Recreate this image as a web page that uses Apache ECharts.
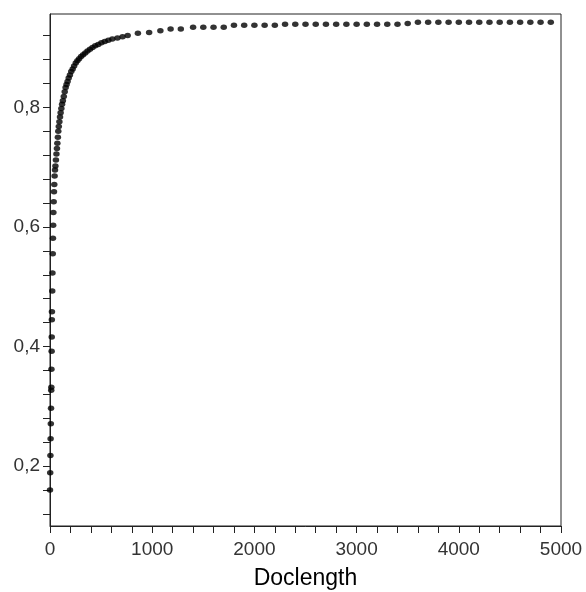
<!DOCTYPE html>
<html>
<head>
<meta charset="utf-8">
<script src="https://cdn.jsdelivr.net/npm/echarts@6/dist/echarts.min.js"></script>
<style>html,body{margin:0;padding:0;background:#fff;}#chart{width:586px;height:592px;}</style>
</head>
<body>
<div id="chart"></div>
<script>
const docLength = [0, 2, 4, 6, 8, 10, 12, 13, 14, 16, 17, 18, 19, 22, 24, 27, 29, 31, 33, 36, 39, 42, 45, 49, 53, 58, 63, 68, 72, 77, 81, 86, 92, 98, 104, 111, 118, 126, 135, 144, 153, 162, 172, 183, 195, 208, 222, 236, 252, 268, 285, 304, 324, 345, 367, 391, 416, 443, 472, 503, 536, 571, 610, 660, 710, 760, 860, 970, 1080, 1180, 1280, 1400, 1500, 1600, 1700, 1800, 1900, 2000, 2100, 2200, 2300, 2400, 2500, 2600, 2700, 2800, 2900, 3000, 3100, 3200, 3300, 3400, 3500, 3600, 3700, 3800, 3900, 4000, 4100, 4200, 4300, 4400, 4500, 4600, 4700, 4800, 4900];
const accuracy = [0.16, 0.189, 0.218, 0.246, 0.271, 0.297, 0.327, 0.332, 0.362, 0.392, 0.416, 0.445, 0.458, 0.493, 0.523, 0.555, 0.581, 0.603, 0.624, 0.642, 0.659, 0.671, 0.685, 0.695, 0.702, 0.712, 0.722, 0.731, 0.740, 0.750, 0.760, 0.768, 0.776, 0.784, 0.791, 0.798, 0.805, 0.811, 0.818, 0.826, 0.833, 0.838, 0.843, 0.849, 0.854, 0.860, 0.864, 0.869, 0.874, 0.878, 0.881, 0.885, 0.888, 0.891, 0.894, 0.897, 0.900, 0.903, 0.905, 0.908, 0.910, 0.912, 0.914, 0.916, 0.918, 0.920, 0.924, 0.925, 0.928, 0.931, 0.931, 0.934, 0.934, 0.934, 0.934, 0.937, 0.937, 0.937, 0.937, 0.937, 0.939, 0.939, 0.939, 0.939, 0.939, 0.939, 0.939, 0.939, 0.939, 0.939, 0.939, 0.939, 0.940, 0.942, 0.942, 0.942, 0.942, 0.942, 0.942, 0.942, 0.942, 0.942, 0.942, 0.942, 0.942, 0.942, 0.942];
const xTickValues = [0, 200, 400, 600, 800, 1000, 1200, 1400, 1600, 1800, 2000, 2200, 2400, 2600, 2800, 3000, 3200, 3400, 3600, 3800, 4000, 4200, 4400, 4600, 4800, 5000];
const xLabelValues = [0, 1000, 2000, 3000, 4000, 5000];
const yTickValues = [0.12, 0.16, 0.20, 0.24, 0.28, 0.32, 0.36, 0.40, 0.44, 0.48, 0.52, 0.56, 0.60, 0.64, 0.68, 0.72, 0.76, 0.80, 0.84, 0.88, 0.92];
const yLabelValues = [0.2, 0.4, 0.6, 0.8];
const xName = 'Doclength';

const chart = echarts.init(document.getElementById('chart'), null, {renderer: 'canvas'});
const points = docLength.map((x, i) => [x, accuracy[i]]);
const labelStyle = {fontFamily: 'Liberation Sans', fontSize: 19, color: '#333'};
chart.setOption({
  animation: false,
  backgroundColor: '#fff',
  grid: {left: 50, right: 25, top: 14, bottom: 66, containLabel: false, outerBoundsMode: 'none', show: true, borderColor: '#222', borderWidth: 1, backgroundColor: 'transparent'},
  xAxis: {
    type: 'value', min: 0, max: 5000,
    name: xName, nameLocation: 'middle', nameGap: 41,
    nameTextStyle: {fontFamily: 'Liberation Sans', fontSize: 23, color: '#000'},
    axisLine: {show: true, lineStyle: {color: '#222', width: 1}},
    axisTick: {show: true, length: 7, inside: false, customValues: xTickValues, lineStyle: {color: '#222'}},
    axisLabel: Object.assign({margin: 14, customValues: xLabelValues, formatter: v => String(v)}, labelStyle),
    splitLine: {show: false}
  },
  yAxis: {
    type: 'value', min: 0.1, max: 0.956,
    axisLine: {show: true, lineStyle: {color: '#222', width: 1}},
    axisTick: {show: true, length: 7, inside: false, customValues: yTickValues, lineStyle: {color: '#222'}},
    axisLabel: Object.assign({margin: 10, customValues: yLabelValues, formatter: v => v.toFixed(1).replace('.', ',')}, labelStyle),
    splitLine: {show: false}
  },
  series: [{
    type: 'scatter',
    data: points,
    symbol: 'circle',
    symbolSize: [6.5, 5.5],
    itemStyle: {color: '#000'},
    clip: false
  }]
});
</script>
</body>
</html>
